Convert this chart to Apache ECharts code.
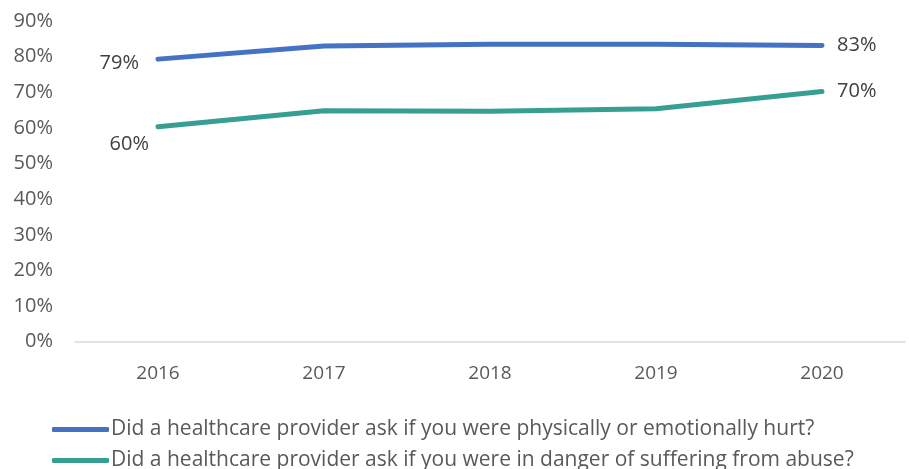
<!DOCTYPE html>
<html>
<head>
<meta charset="utf-8">
<script src="https://cdn.jsdelivr.net/npm/echarts@6/dist/echarts.min.js"></script>
<style>html,body{margin:0;padding:0;background:#fff}#c{width:909px;height:469px}</style>
</head>
<body>
<div id="c"></div>
<script>
const years = ['2016', '2017', '2018', '2019', '2020'];
const hurtValues = [79.3, 83.0, 83.5, 83.5, 83.1];
const dangerValues = [60.3, 64.8, 64.7, 65.4, 70.2];
const seriesNames = [
  'Did a healthcare provider ask if you were physically or emotionally hurt?',
  'Did a healthcare provider ask if you were in danger of suffering from abuse?'
];
const yTicks = [0, 10, 20, 30, 40, 50, 60, 70, 80, 90];

const FONT = '"Open Sans", sans-serif';
const chart = echarts.init(document.getElementById('c'), null, {renderer: 'canvas'});

function labelsFor(values, firstPos, firstOffset) {
  return values.map((v, i) => {
    const item = {value: v};
    if (i === 0) {
      item.label = {show: true, position: firstPos, offset: firstOffset};
    } else if (i === values.length - 1) {
      item.label = {show: true, position: 'right', distance: 15};
    }
    return item;
  });
}

function legendFor(name, top) {
  return {
    orient: 'horizontal',
    left: 47,
    top: top,
    itemWidth: 57,
    itemHeight: 5,
    icon: 'roundRect',
    textStyle: {color: '#595959', fontSize: 21, fontFamily: FONT, padding: [0, 0, 0, -3]},
    data: [name]
  };
}

chart.setOption({
  animation: false,
  grid: {left: 75, right: 4, top: 21, bottom: 127.3},
  textStyle: {fontFamily: FONT},
  xAxis: {
    type: 'category',
    data: years,
    boundaryGap: true,
    axisLine: {lineStyle: {color: '#d9d9d9', width: 1.5}},
    axisTick: {show: false},
    axisLabel: {color: '#595959', fontSize: 19, margin: 22, fontFamily: FONT}
  },
  yAxis: {
    type: 'value',
    min: yTicks[0],
    max: yTicks[yTicks.length - 1],
    interval: 10,
    axisLine: {show: false},
    axisTick: {show: false},
    splitLine: {show: false},
    axisLabel: {color: '#595959', fontSize: 20, margin: 22, fontFamily: FONT,
      formatter: v => v + '%'}
  },
  legend: [legendFor(seriesNames[0], 414), legendFor(seriesNames[1], 445)],
  series: [
    {
      name: seriesNames[0],
      type: 'line',
      data: labelsFor(hurtValues, 'left', [-14, 4]),
      symbol: 'circle',
      symbolSize: 0.01,
      lineStyle: {color: '#4472C4', width: 5, cap: 'round', join: 'round'},
      itemStyle: {color: '#4472C4'},
      label: {show: false, color: '#404040', fontSize: 20, fontFamily: FONT,
        formatter: p => Math.round(p.value) + '%'}
    },
    {
      name: seriesNames[1],
      type: 'line',
      data: labelsFor(dangerValues, 'left', [-4, 17]),
      symbol: 'circle',
      symbolSize: 0.01,
      lineStyle: {color: '#379E93', width: 5, cap: 'round', join: 'round'},
      itemStyle: {color: '#379E93'},
      label: {show: false, color: '#404040', fontSize: 20, fontFamily: FONT,
        formatter: p => Math.round(p.value) + '%'}
    }
  ]
});
</script>
</body>
</html>
